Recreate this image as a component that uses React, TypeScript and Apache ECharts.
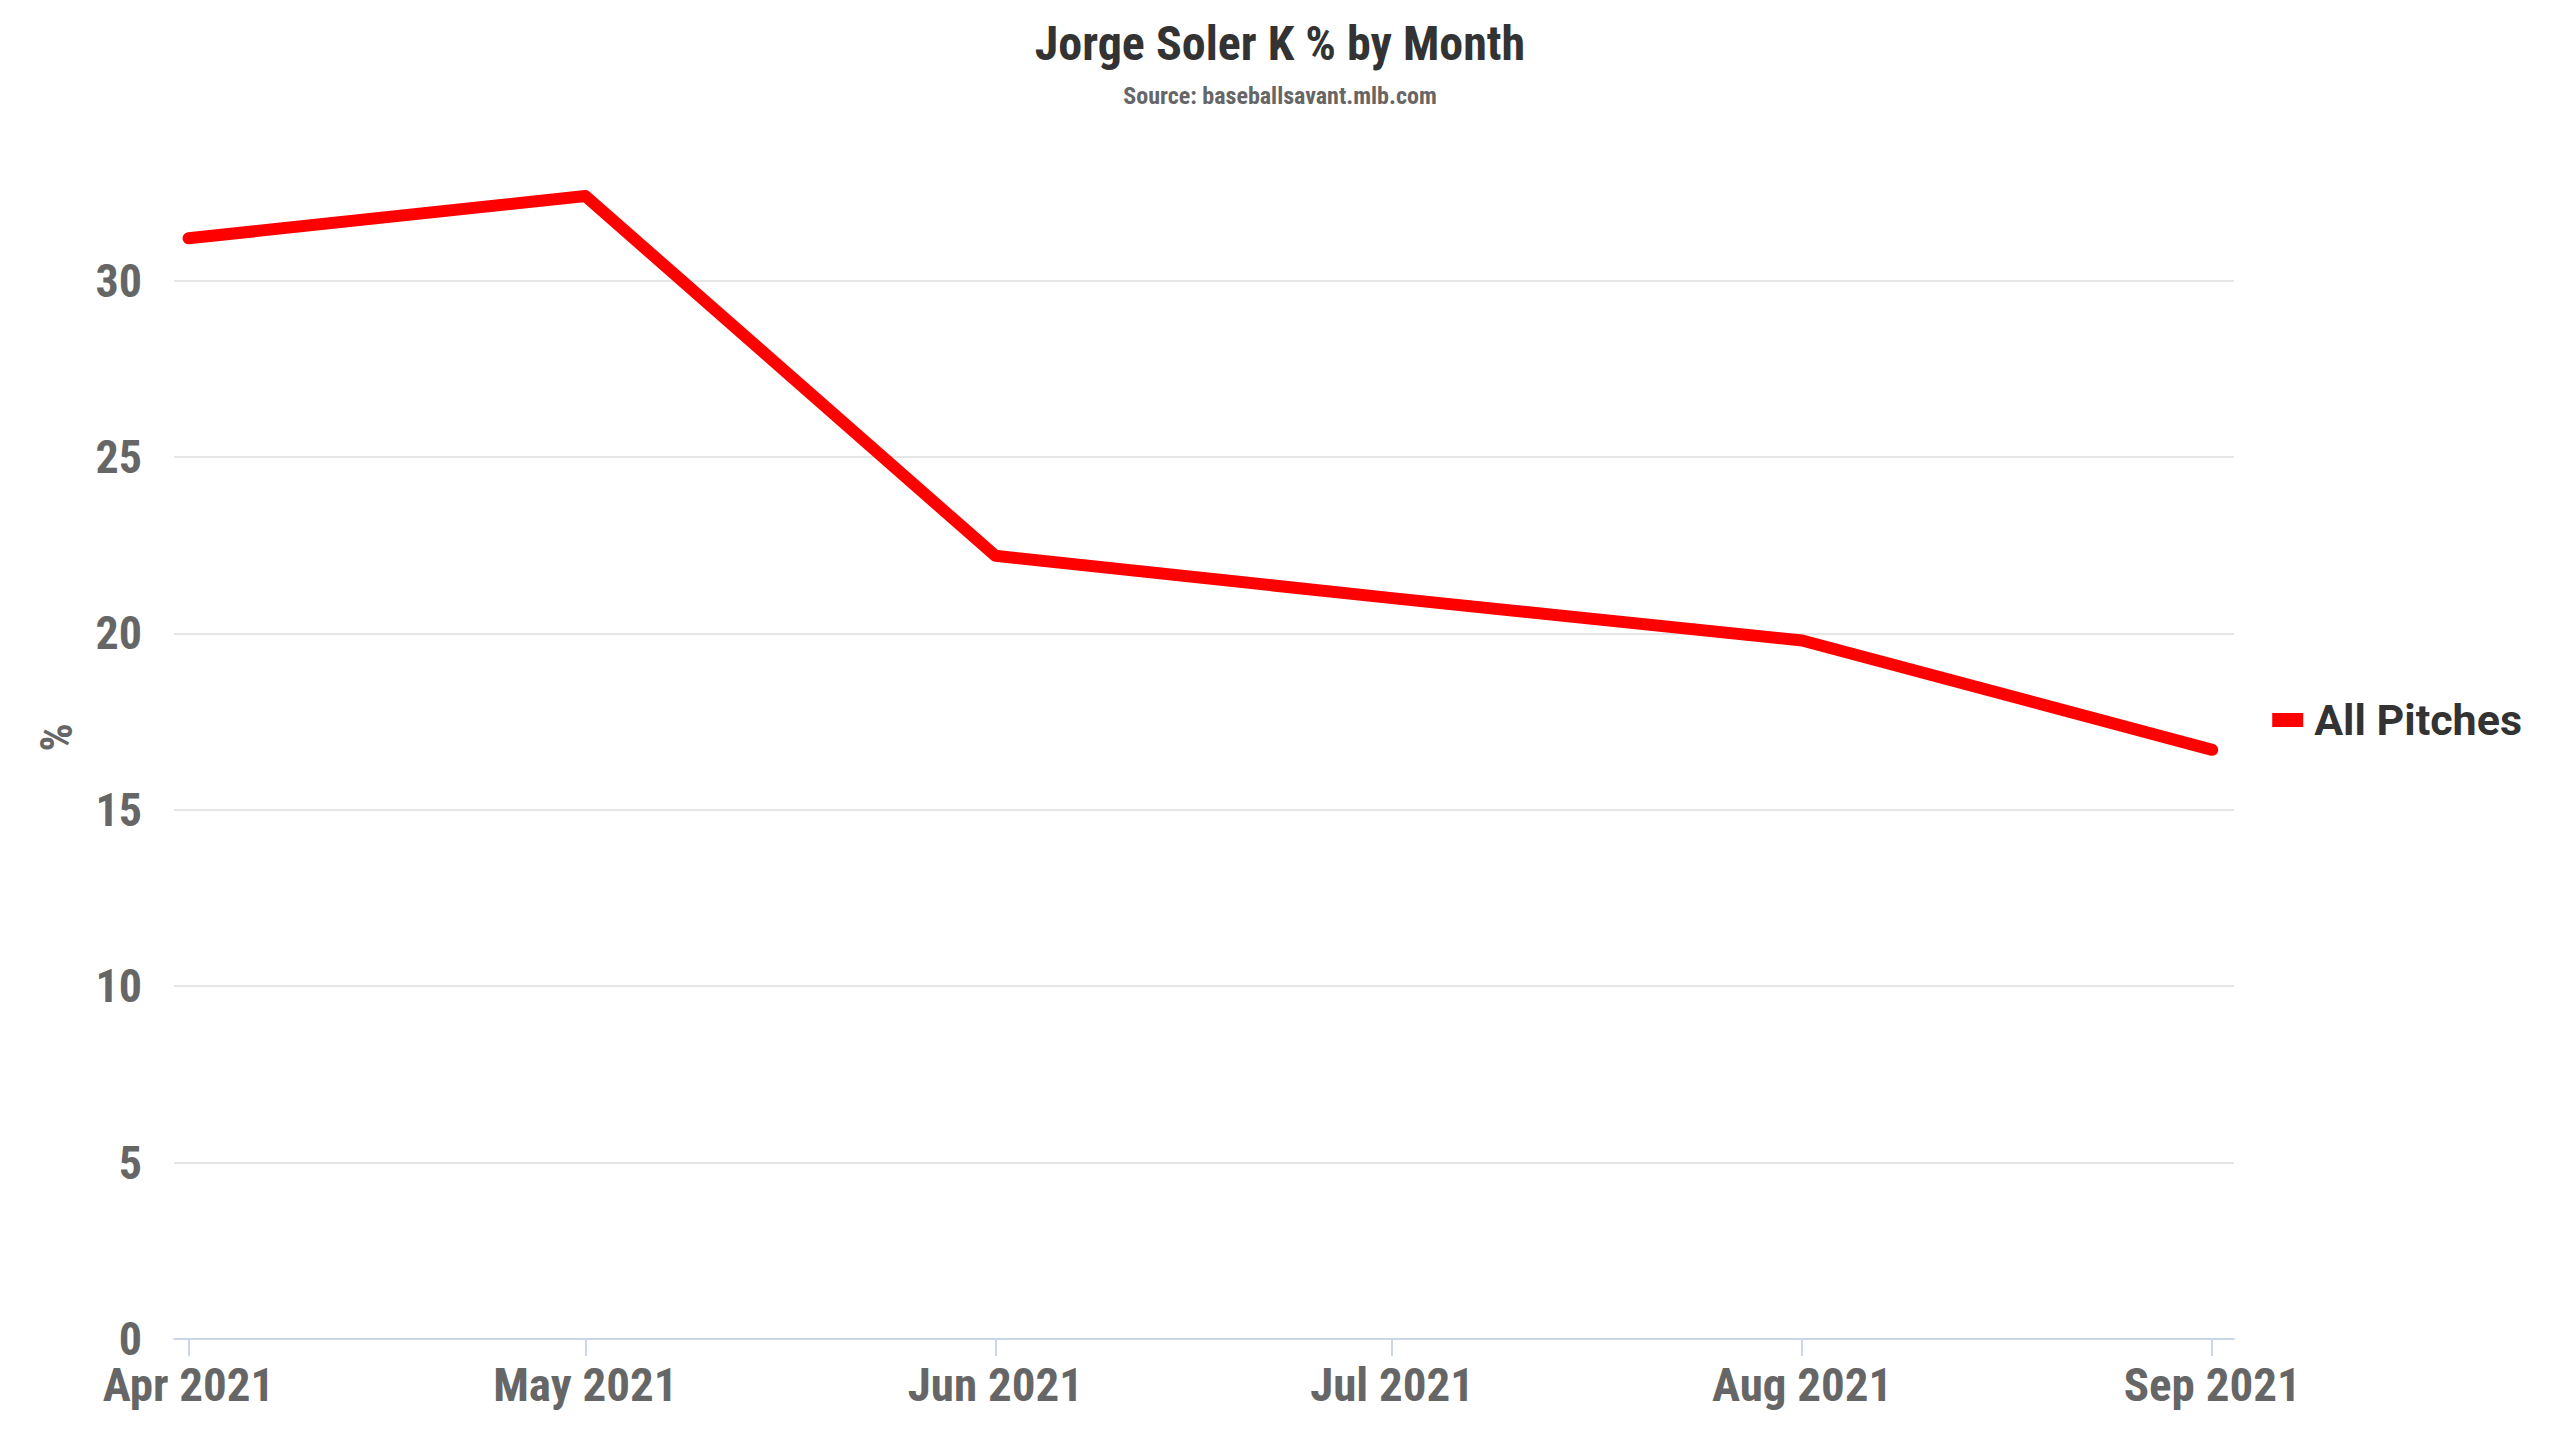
import React, { useEffect, useRef } from "react";
import * as echarts from "echarts";

const TITLE = "Jorge Soler K % by Month";
const SUBTITLE = "Source: baseballsavant.mlb.com";
const SERIES_NAME = "All Pitches";
const Y_NAME = "%";

const MONTHS = ["2021-04-01", "2021-05-01", "2021-06-01", "2021-07-01", "2021-08-01", "2021-09-01"];
const K_PCT = [31.2, 32.4, 22.2, 21.0, 19.8, 16.7];
const MONTH_LABELS = ["Jan", "Feb", "Mar", "Apr", "May", "Jun", "Jul", "Aug", "Sep", "Oct", "Nov", "Dec"];

const DAY = 24 * 3600 * 1000;
const COND = '"Roboto Condensed", "Liberation Sans Narrow", "DejaVu Sans Condensed", Roboto, sans-serif';

export default function App() {
  const ref = useRef<HTMLDivElement>(null);
  useEffect(() => {
    document.body.style.margin = "0";
    const chart = echarts.init(ref.current!, null, { renderer: "svg" });
    const times = MONTHS.map((m) => Date.parse(m));
    const data = times.map((t, i) => [t, K_PCT[i]]);
    chart.setOption({
      animation: false,
      useUTC: true,
      backgroundColor: "#ffffff",
      title: {
        text: TITLE,
        subtext: SUBTITLE,
        left: "center",
        top: 19,
        padding: 0,
        itemGap: 17,
        textStyle: { fontFamily: COND, fontSize: 48, fontWeight: "bold", color: "#333333" },
        subtextStyle: { fontFamily: COND, fontSize: 24, fontWeight: "bold", color: "#666666" },
      },
      legend: {
        orient: "vertical",
        right: 38,
        top: "middle",
        padding: 0,
        icon: "rect",
        itemWidth: 31,
        itemHeight: 14,
        data: [SERIES_NAME],
        textStyle: { fontFamily: "Roboto, sans-serif", fontSize: 43, fontWeight: "bold", color: "#333333", padding: [0, 0, 0, 6] },
      },
      grid: { left: 174, right: 326, top: 136, bottom: 101, containLabel: false },
      xAxis: {
        type: "time",
        min: times[0] - 1.1 * DAY,
        max: times[times.length - 1] + 1.65 * DAY,
        minInterval: 28 * DAY,
        maxInterval: 31 * DAY,
        splitNumber: 6,
        axisLine: { show: true, lineStyle: { color: "#ccd6eb", width: 2 } },
        axisTick: { show: true, length: 17, lineStyle: { color: "#ccd6eb", width: 2 } },
        splitLine: { show: false },
        axisLabel: {
          margin: 22,
          fontFamily: COND,
          fontSize: 47,
          fontWeight: "bold",
          color: "#666666",
          hideOverlap: false,
          formatter: (v: number) => {
            const d = new Date(v);
            return MONTH_LABELS[d.getUTCMonth()] + " " + d.getUTCFullYear();
          },
        },
      },
      yAxis: {
        type: "value",
        min: 0,
        max: 34.1,
        interval: 5,
        name: Y_NAME,
        nameLocation: "middle",
        nameGap: 95,
        nameTextStyle: { fontFamily: COND, fontSize: 44, fontWeight: "bold", color: "#666666" },
        axisLine: { show: false },
        axisTick: { show: false },
        splitLine: { show: true, showMaxLine: false, lineStyle: { color: "#e6e6e6", width: 2 } },
        axisLabel: {
          margin: 32,
          showMaxLabel: false,
          fontFamily: COND,
          fontSize: 46,
          fontWeight: "bold",
          color: "#666666",
        },
      },
      series: [
        {
          name: SERIES_NAME,
          type: "line",
          data,
          showSymbol: false,
          symbol: "none",
          clip: false,
          color: "#ff0000",
          lineStyle: { color: "#ff0000", width: 12, cap: "round", join: "round" },
          emphasis: { disabled: true },
        },
      ],
    });
    return () => chart.dispose();
  }, []);
  return <div ref={ref} style={{ position: "fixed", left: 0, top: 0, width: 2560, height: 1440, background: "#fff" }} />;
}
